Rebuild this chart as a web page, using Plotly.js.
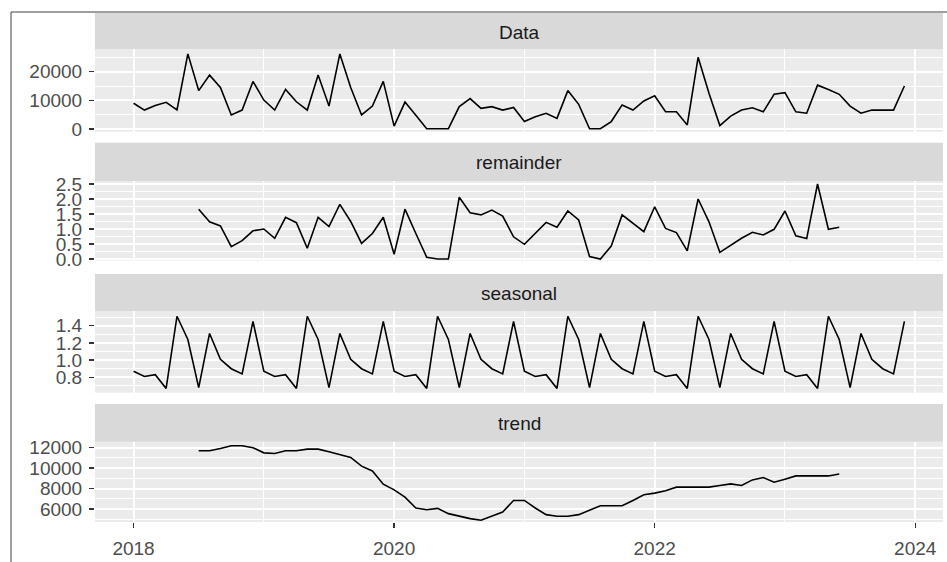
<!DOCTYPE html>
<html>
<head>
<meta charset="utf-8">
<script src="https://cdn.plot.ly/plotly-3.0.1.min.js"></script>
<style>
  html, body { margin: 0; padding: 0; background: #ffffff; }
  #chart { width: 947px; height: 562px; }
</style>
</head>
<body>
<div id="chart"></div>
<script>
// ---------------- data ----------------
const startYear = 2018;
const nMonths = 72;           // 2018-01 .. 2023-12
const panelLabels = ['Data', 'remainder', 'seasonal', 'trend'];
const xTickVals = [2018, 2020, 2022, 2024];
const xTickText = ['2018', '2020', '2022', '2024'];

const dataValues = [
  9000, 6600, 8200, 9300, 6700, 26200, 13400, 18800, 14500, 4900, 6600, 16600,
  10100, 6600, 13800, 9500, 6600, 18800, 8000, 26200, 14500, 4900, 8000, 16600,
  1000, 9400, 4800, 100, 100, 100, 7800, 10600, 7200, 7800, 6600, 7500,
  2600, 4300, 5500, 3700, 13400, 8600, 100, 100, 2600, 8400, 6600, 9800,
  11600, 6000, 6000, 1400, 25000, 12500, 1200, 4500, 6600, 7400, 6000, 12100,
  12700, 6000, 5500, 15300, 13800, 12100, 8000, 5500, 6600, 6600, 6600, 15000
];

const remainderValues = [
  null, null, null, null, null, null,
  1.66, 1.24, 1.10, 0.41, 0.61, 0.94,
  1.00, 0.69, 1.39, 1.21, 0.36, 1.39, 1.08, 1.82, 1.25, 0.52, 0.85, 1.39,
  0.16, 1.66, 0.85, 0.06, 0.00, 0.00, 2.06, 1.54, 1.47, 1.63, 1.43, 0.74,
  0.49, 0.86, 1.22, 1.06, 1.60, 1.30, 0.08, 0.00, 0.43, 1.47, 1.19, 0.91,
  1.74, 1.02, 0.88, 0.27, 2.00, 1.24, 0.22, 0.47, 0.69, 0.89, 0.80, 0.99,
  1.60, 0.77, 0.68, 2.50, 0.99, 1.06,
  null, null, null, null, null, null
];

const seasonalValues = [
  0.87, 0.81, 0.83, 0.67, 1.51, 1.24, 0.68, 1.31, 1.01, 0.90, 0.84, 1.45,
  0.87, 0.81, 0.83, 0.67, 1.51, 1.24, 0.68, 1.31, 1.01, 0.90, 0.84, 1.45,
  0.87, 0.81, 0.83, 0.67, 1.51, 1.24, 0.68, 1.31, 1.01, 0.90, 0.84, 1.45,
  0.87, 0.81, 0.83, 0.67, 1.51, 1.24, 0.68, 1.31, 1.01, 0.90, 0.84, 1.45,
  0.87, 0.81, 0.83, 0.67, 1.51, 1.24, 0.68, 1.31, 1.01, 0.90, 0.84, 1.45,
  0.87, 0.81, 0.83, 0.67, 1.51, 1.24, 0.68, 1.31, 1.01, 0.90, 0.84, 1.45
];

const trendValues = [
  null, null, null, null, null, null,
  11700, 11700, 11930, 12190, 12190, 12000,
  11500, 11440, 11700, 11700, 11860, 11860, 11600, 11350, 11050, 10200, 9730, 8430,
  7880, 7170, 6100, 5935, 6065, 5550, 5290, 5060, 4900, 5290, 5700, 6840,
  6840, 6100, 5450, 5290, 5290, 5450, 5870, 6320, 6320, 6320, 6840, 7390,
  7560, 7780, 8140, 8140, 8140, 8140, 8300, 8460, 8300, 8850, 9080, 8620,
  8920, 9240, 9240, 9240, 9240, 9430,
  null, null, null, null, null, null
];

// time index (decimal years, monthly)
const time = Array.from({length: nMonths}, (_, i) => startYear + i / 12);

// ---------------- layout ----------------
const L = 95, R = 943, T = 13, B = 522;
const yP = p => (B - p) / (B - T);
const xP = p => (p - L) / (R - L);

const panels = [
  {label: panelLabels[0], y: dataValues,      strip: [13, 49.3],   panel: [49.3, 131.7], range: [-940, 27800],  dtick: 10000, minor: 5000, fmt: 'd'},
  {label: panelLabels[1], y: remainderValues, strip: [142.7, 181], panel: [181, 260.7],  range: [-0.057, 2.6],  dtick: 0.5,   minor: 0.25, fmt: '.1f'},
  {label: panelLabels[2], y: seasonalValues,  strip: [274, 311],   panel: [311, 392.7],  range: [0.621, 1.571], dtick: 0.2,   minor: 0.1,  fmt: '.1f', tick0: 0.8},
  {label: panelLabels[3], y: trendValues,     strip: [404, 441.7], panel: [441.7, 522],  range: [4730, 12590],  dtick: 2000,  minor: 1000, fmt: 'd'}
];

const tickFont = {family: 'Liberation Sans, Arial, sans-serif', size: 19, color: '#4D4D4D'};
const traces = [];
const layout = {
  width: 947, height: 562,
  margin: {l: L, r: 947 - R, t: T, b: 562 - B, pad: 0},
  paper_bgcolor: '#ffffff',
  plot_bgcolor: '#EBEBEB',
  showlegend: false,
  hovermode: false,
  shapes: [],
  annotations: []
};

panels.forEach((p, k) => {
  const n = k + 1;
  const xa = n === 1 ? 'x' : 'x' + n;
  const ya = n === 1 ? 'y' : 'y' + n;
  traces.push({
    type: 'scatter', mode: 'lines', x: time, y: p.y,
    xaxis: xa, yaxis: ya,
    line: {color: '#000000', width: 1.6},
    connectgaps: false
  });
  const last = k === panels.length - 1;
  layout[n === 1 ? 'xaxis' : 'xaxis' + n] = {
    domain: [0, 1], anchor: ya,
    range: [2017.704, 2024.213],
    tickmode: 'array', tickvals: xTickVals, ticktext: xTickText,
    showgrid: true, gridcolor: '#FFFFFF', gridwidth: 2,
    minor: {dtick: 1, tick0: 2018, showgrid: true, gridcolor: '#FFFFFF', gridwidth: 1, ticks: ''},
    zeroline: false, showline: false,
    ticks: last ? 'outside' : '', ticklen: 5, tickwidth: 1.5, tickcolor: '#333333',
    showticklabels: last, tickfont: tickFont, ticklabelstandoff: 4,
    fixedrange: true
  };
  layout[n === 1 ? 'yaxis' : 'yaxis' + n] = {
    domain: [yP(p.panel[1]), yP(p.panel[0])], anchor: xa,
    range: p.range,
    tick0: p.tick0 !== undefined ? p.tick0 : 0, dtick: p.dtick, tickformat: p.fmt,
    showgrid: true, gridcolor: '#FFFFFF', gridwidth: 2,
    minor: {dtick: p.minor, tick0: 0, showgrid: true, gridcolor: '#FFFFFF', gridwidth: 1, ticks: ''},
    zeroline: false, showline: false,
    ticks: 'outside', ticklen: 5, tickwidth: 1.5, tickcolor: '#333333',
    tickfont: tickFont, ticklabelstandoff: 3,
    fixedrange: true
  };
  // strip
  layout.shapes.push({
    type: 'rect', xref: 'paper', yref: 'paper', layer: 'below',
    x0: 0, x1: 1, y0: yP(p.strip[1]), y1: yP(p.strip[0]),
    fillcolor: '#D9D9D9', line: {width: 0}
  });
  layout.annotations.push({
    xref: 'paper', yref: 'paper', x: 0.5, y: yP((p.strip[0] + p.strip[1]) / 2),
    xanchor: 'center', yanchor: 'middle', yshift: -1, showarrow: false,
    text: p.label,
    font: {family: 'Liberation Sans, Arial, sans-serif', size: 19, color: '#1A1A1A'}
  });
});

// outer frame lines (top and left)
layout.shapes.push({
  type: 'line', xref: 'paper', yref: 'paper',
  x0: xP(11), x1: xP(947), y0: yP(12), y1: yP(12),
  line: {color: '#404040', width: 1}
});
layout.shapes.push({
  type: 'line', xref: 'paper', yref: 'paper',
  x0: xP(11), x1: xP(11), y0: yP(12), y1: yP(562),
  line: {color: '#404040', width: 1}
});

Plotly.newPlot('chart', traces, layout, {displayModeBar: false, staticPlot: true});
</script>
</body>
</html>
